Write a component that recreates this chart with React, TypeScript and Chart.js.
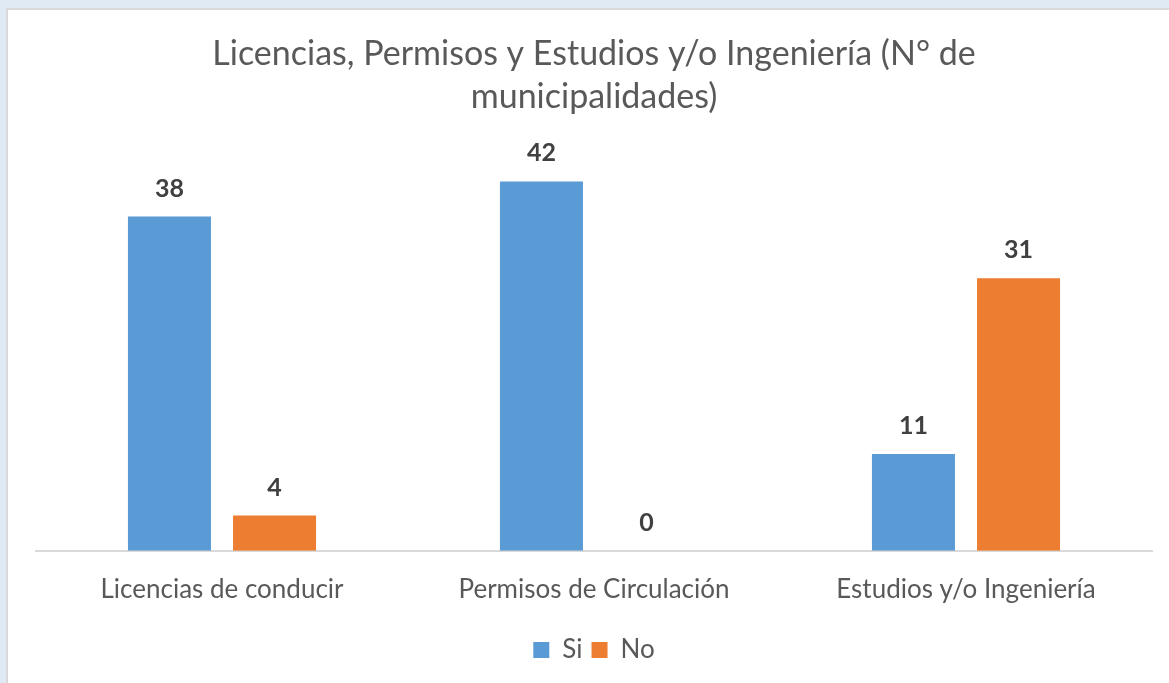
import React, { useEffect, useRef } from "react";
import { Chart, registerables } from "chart.js";

Chart.register(...registerables);

const categories = ["Licencias de conducir", "Permisos de Circulación", "Estudios y/o Ingeniería"];
const siValues = [38, 42, 11];
const noValues = [4, 0, 31];
const seriesNames = ["Si", "No"];
const titleLines = ["Licencias, Permisos y Estudios y/o Ingeniería (N° de", "municipalidades)"];

const FONT = "Lato, 'Open Sans', sans-serif";

const valueLabels = {
  id: "valueLabels",
  afterDatasetsDraw(chart: any) {
    const ctx = chart.ctx;
    ctx.save();
    ctx.font = `bold 25px ${FONT}`;
    ctx.fillStyle = "#404040";
    ctx.textAlign = "center";
    ctx.textBaseline = "middle";
    chart.data.datasets.forEach((ds: any, di: number) => {
      const meta = chart.getDatasetMeta(di);
      meta.data.forEach((bar: any, i: number) => {
        ctx.fillText(String(ds.data[i]), bar.x, bar.y - 28);
      });
    });
    ctx.restore();
  },
};

export default function App() {
  const ref = useRef<HTMLCanvasElement | null>(null);
  useEffect(() => {
    document.body.style.margin = "0";
    const chart = new Chart(ref.current!, {
      type: "bar",
      data: {
        labels: categories,
        datasets: [
          { label: seriesNames[0], data: siValues, backgroundColor: "#5b9bd5", categoryPercentage: 0.565, barPercentage: 0.79 },
          { label: seriesNames[1], data: noValues, backgroundColor: "#ed7d31", categoryPercentage: 0.565, barPercentage: 0.79 },
        ],
      },
      options: {
        animation: false,
        responsive: false,
        layout: { padding: { left: 36, right: 17, bottom: 10 } },
        plugins: {
          title: {
            display: true,
            text: titleLines,
            color: "#595959",
            font: { family: FONT, size: 34, weight: "normal", lineHeight: 1.265 },
            padding: { top: 33, bottom: 36 },
          },
          legend: {
            position: "bottom",
            labels: {
              color: "#595959",
              font: { family: FONT, size: 26 },
              boxWidth: 16,
              boxHeight: 16,
              padding: 9,
            },
          },
          tooltip: { enabled: false },
        },
        scales: {
          x: {
            grid: { display: false, drawTicks: false },
            border: { display: true, color: "#d9d9d9", width: 2 },
            ticks: { color: "#595959", font: { family: FONT, size: 26 }, padding: 23 },
          },
          y: { display: false, min: 0, max: 45 },
        },
      },
      plugins: [valueLabels],
    });
    return () => chart.destroy();
  }, []);
  return (
    <div style={{ position: "fixed", left: 0, top: 0, width: 1169, height: 683, background: "#dfeaf5", overflow: "hidden" }}>
      <div style={{ position: "absolute", left: 6, top: 8, width: 1200, height: 700, background: "#ffffff", border: "2px solid #d9d9d9", boxSizing: "border-box" }} />
      <canvas ref={ref} width={1169} height={683} style={{ position: "absolute", left: 0, top: 0 }} />
    </div>
  );
}
